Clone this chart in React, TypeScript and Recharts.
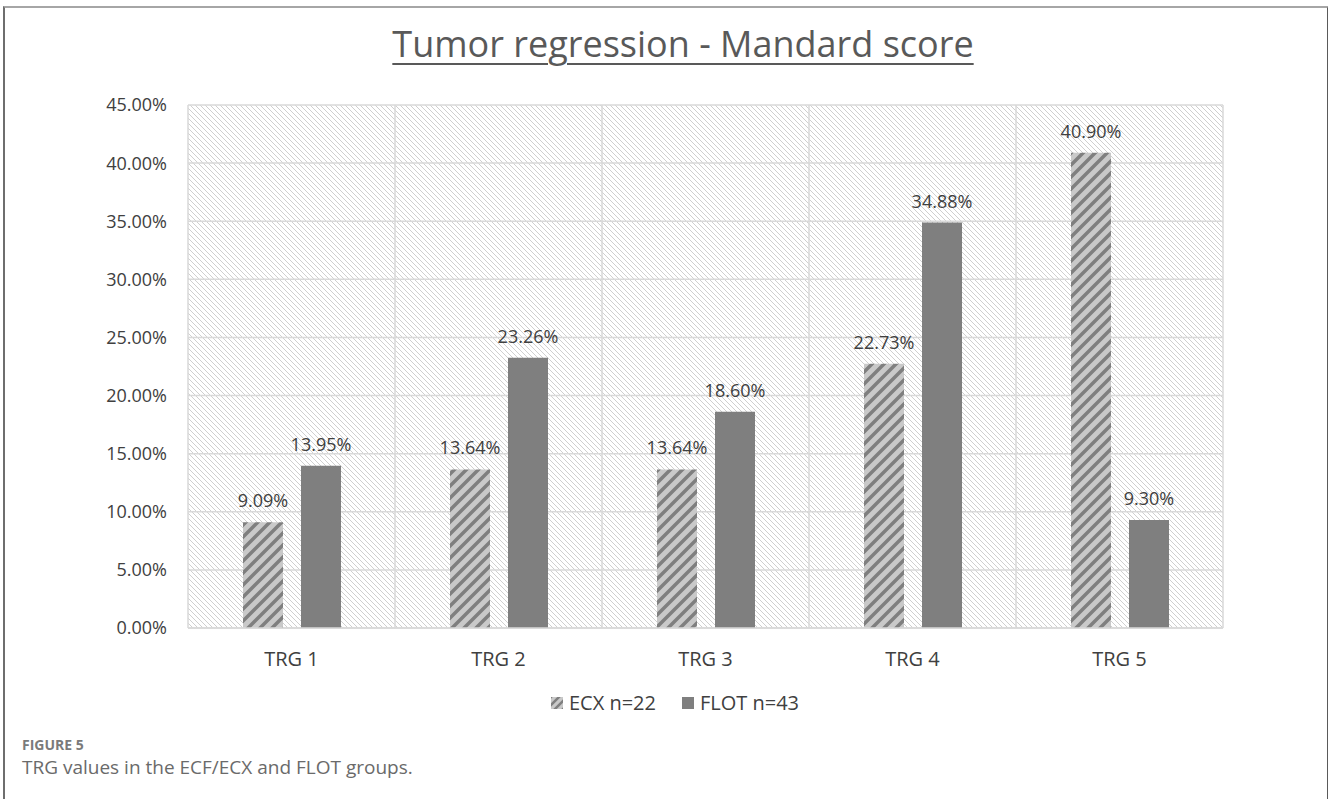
import React from 'react';
import { BarChart, Bar, XAxis, YAxis, CartesianGrid, LabelList, Legend } from 'recharts';

const categories = ['TRG 1', 'TRG 2', 'TRG 3', 'TRG 4', 'TRG 5'];
const ecxValues = [9.09, 13.64, 13.64, 22.73, 40.9];
const flotValues = [13.95, 23.26, 18.6, 34.88, 9.3];
const yTicks = [0, 5, 10, 15, 20, 25, 30, 35, 40, 45];
const seriesNames = ['ECX n=22', 'FLOT n=43'];

const data = categories.map((c, i) => ({ name: c, ecx: ecxValues[i], flot: flotValues[i] }));

const FONT = '"Open Sans", "Noto Sans", sans-serif';
const TEXT = '#404040';
const GRID = '#d9d9d9';
const DARK = '#7f7f7f';
const LIGHT = '#c9c9c9';

const pct = (v: number) => `${Number(v).toFixed(2)}%`;

const LegendContent = () => (
  <div style={{ display: 'flex', justifyContent: 'center', alignItems: 'center', fontFamily: FONT, fontSize: 20, color: TEXT }}>
    <svg width={12} height={12} style={{ marginRight: 6 }}>
      <defs>
        <pattern id="legHatch" patternUnits="userSpaceOnUse" width={8} height={8}>
          <rect width={8} height={8} fill={LIGHT} />
          <path d="M0,8 L8,0 M-2,2 L2,-2 M6,10 L10,6" stroke={DARK} strokeWidth={2.5} />
        </pattern>
      </defs>
      <rect width={12} height={12} fill="url(#legHatch)" />
    </svg>
    <span style={{ marginRight: 26 }}>{seriesNames[0]}</span>
    <svg width={12} height={12} style={{ marginRight: 6 }}>
      <rect width={12} height={12} fill={DARK} />
    </svg>
    <span>{seriesNames[1]}</span>
  </div>
);

export default function App() {
  return (
    <div style={{ position: 'absolute', left: 0, top: 0, width: 1328, height: 799, background: '#fff', overflow: 'hidden' }}>
      <div style={{ position: 'absolute', left: 3, top: 6, width: 1322, height: 800, borderTop: '2px solid #a6a6a6', borderLeft: '2px solid #6e6e6e', borderRight: '2px solid #5a5a5a' }} />
      <div style={{ position: 'absolute', left: 383, top: 22, width: 600, textAlign: 'center', fontFamily: FONT, fontSize: 36, lineHeight: '44px', color: '#595959', textDecoration: 'underline', textDecorationThickness: '2px', textUnderlineOffset: '6px', whiteSpace: 'nowrap' }}>
        Tumor regression - Mandard score
      </div>
      <BarChart
        width={1328}
        height={799}
        data={data}
        margin={{ top: 105, right: 105, left: 0, bottom: 131 }}
        barSize={40}
        barGap={18}
        style={{ position: 'absolute', left: 0, top: 0 }}
      >
        <defs>
          <pattern id="bgHatch" patternUnits="userSpaceOnUse" width={5} height={5}>
            <rect width={5} height={5} fill="#ffffff" />
            <path d="M0,0 L5,5 M-1,4 L1,6 M4,-1 L6,1" stroke="#cfcfcf" strokeWidth={1} />
          </pattern>
          <pattern id="ecxHatch" patternUnits="userSpaceOnUse" width={12} height={12}>
            <rect width={12} height={12} fill={LIGHT} />
            <path d="M0,12 L12,0 M-3,3 L3,-3 M9,15 L15,9" stroke={DARK} strokeWidth={3.5} />
          </pattern>
        </defs>
        <CartesianGrid
          stroke={GRID}
          strokeWidth={1.5}
          fill="url(#bgHatch)"
          fillOpacity={1}
          verticalCoordinatesGenerator={({ offset }: any) =>
            [0, 1, 2, 3, 4, 5].map((i) => offset.left + (i * offset.width) / 5)
          }
        />
        <XAxis
          dataKey="name"
          height={40}
          tickLine={false}
          tickSize={0}
          tickMargin={24}
          axisLine={{ stroke: GRID, strokeWidth: 1.5 }}
          tick={{ fill: TEXT, fontSize: 20, fontFamily: FONT }}
        />
        <YAxis
          width={188}
          domain={[0, 45]}
          ticks={yTicks}
          interval={0}
          tickFormatter={pct}
          axisLine={false}
          tickLine={false}
          tickSize={0}
          tickMargin={21}
          tick={{ fill: TEXT, fontSize: 18, fontFamily: FONT }}
        />
        <Legend
          layout="horizontal"
          verticalAlign="middle"
          align="center"
          content={<LegendContent />}
          wrapperStyle={{ top: 689, left: 0, width: 1350, height: 28 }}
        />
        <Bar dataKey="ecx" name={seriesNames[0]} fill="url(#ecxHatch)" isAnimationActive={false}>
          <LabelList dataKey="ecx" position="top" offset={15} formatter={pct} style={{ fill: TEXT, fontSize: 18, fontFamily: FONT }} />
        </Bar>
        <Bar dataKey="flot" name={seriesNames[1]} fill={DARK} isAnimationActive={false}>
          <LabelList dataKey="flot" position="top" offset={15} formatter={pct} style={{ fill: TEXT, fontSize: 18, fontFamily: FONT }} />
        </Bar>
      </BarChart>
      <div style={{ position: 'absolute', left: 22, top: 735, fontFamily: FONT, fontSize: 14, fontWeight: 700, color: '#7a7a7a' }}>FIGURE 5</div>
      <div style={{ position: 'absolute', left: 22, top: 754, fontFamily: FONT, fontSize: 19, color: '#6a6a6a' }}>TRG values in the ECF/ECX and FLOT groups.</div>
    </div>
  );
}
